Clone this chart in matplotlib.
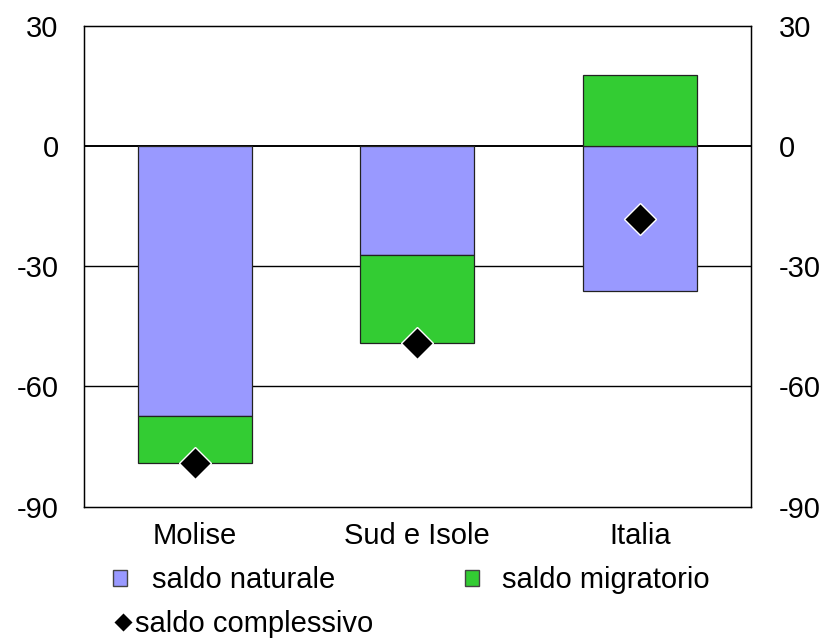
import numpy as np
import matplotlib
matplotlib.use("Agg")
import matplotlib.pyplot as plt
from matplotlib.patches import Patch
from matplotlib.lines import Line2D

# ── DATA ──────────────────────────────────────────────────────────────────────
categories = ["Molise", "Sud e Isole", "Italia"]
saldo_naturale = [-67.4, -27.3, -36.1]
saldo_migratorio = [-11.8, -21.9, 17.8]
saldo_complessivo = [-79.2, -49.2, -18.3]
yticks = [30, 0, -30, -60, -90]

BLUE = "#9999FF"
GREEN = "#33CC33"
FS = 21

plt.rcParams.update({
    "font.family": ["Liberation Sans", "DejaVu Sans"],
    "font.size": FS,
    "axes.unicode_minus": False,
})

fig = plt.figure(figsize=(8.23, 6.40), dpi=100)
ax = fig.add_axes([0.1017, 0.2083, 0.8108, 0.7517])

x = np.arange(len(categories))
nat = np.array(saldo_naturale)
mig = np.array(saldo_migratorio)
# migration stacks below natural when negative, above zero when positive
mig_bottom = np.where(mig < 0, nat, 0)

ax.bar(x, nat, width=0.513, color=BLUE, edgecolor="#222222", linewidth=0.9, zorder=2)
ax.bar(x, mig, bottom=mig_bottom, width=0.513, color=GREEN, edgecolor="#222222",
       linewidth=0.9, zorder=2)
ax.plot(x, saldo_complessivo, linestyle="none", marker="D", markersize=16,
        markerfacecolor="black", markeredgecolor="white", markeredgewidth=1.0, zorder=3)

ax.set_xlim(-0.5, 2.5)
ax.set_ylim(-90, 30)
ax.set_yticks(yticks)
ax.set_xticks(x)
ax.set_xticklabels(categories)
for yv in [0, -30, -60]:
    ax.axhline(yv, color="black", linewidth=1.0 if yv else 1.4, zorder=1)

ax.tick_params(axis="both", length=0, labelsize=FS)
ax.tick_params(axis="y", pad=18)
ax.tick_params(axis="x", pad=11)
for s in ax.spines.values():
    s.set_linewidth(1.0)

ax2 = ax.twinx()
ax2.set_ylim(ax.get_ylim())
ax2.set_yticks(yticks)
ax2.tick_params(axis="y", length=0, labelsize=FS, pad=20)

# legend entries placed one by one to match the reference layout
common = dict(loc="center left", frameon=False, fontsize=FS, borderpad=0,
              borderaxespad=0)
fig.legend(handles=[Patch(facecolor=BLUE, edgecolor="#444444", label="saldo naturale")],
           bbox_to_anchor=(113 / 823, 1 - 580 / 640), handlelength=0.48,
           handleheight=0.48, handletextpad=0.85, **common)
fig.legend(handles=[Patch(facecolor=GREEN, edgecolor="#444444", label="saldo migratorio")],
           bbox_to_anchor=(465 / 823, 1 - 580 / 640), handlelength=0.48,
           handleheight=0.48, handletextpad=0.8, **common)
fig.legend(handles=[Line2D([], [], linestyle="none", marker="D", markersize=10,
                           markerfacecolor="black", markeredgecolor="white",
                           label="saldo complessivo")],
           bbox_to_anchor=(113 / 823, 1 - 624 / 640), handlelength=0.68,
           handletextpad=0.08, **common)

fig.savefig("out.png", dpi=100)
